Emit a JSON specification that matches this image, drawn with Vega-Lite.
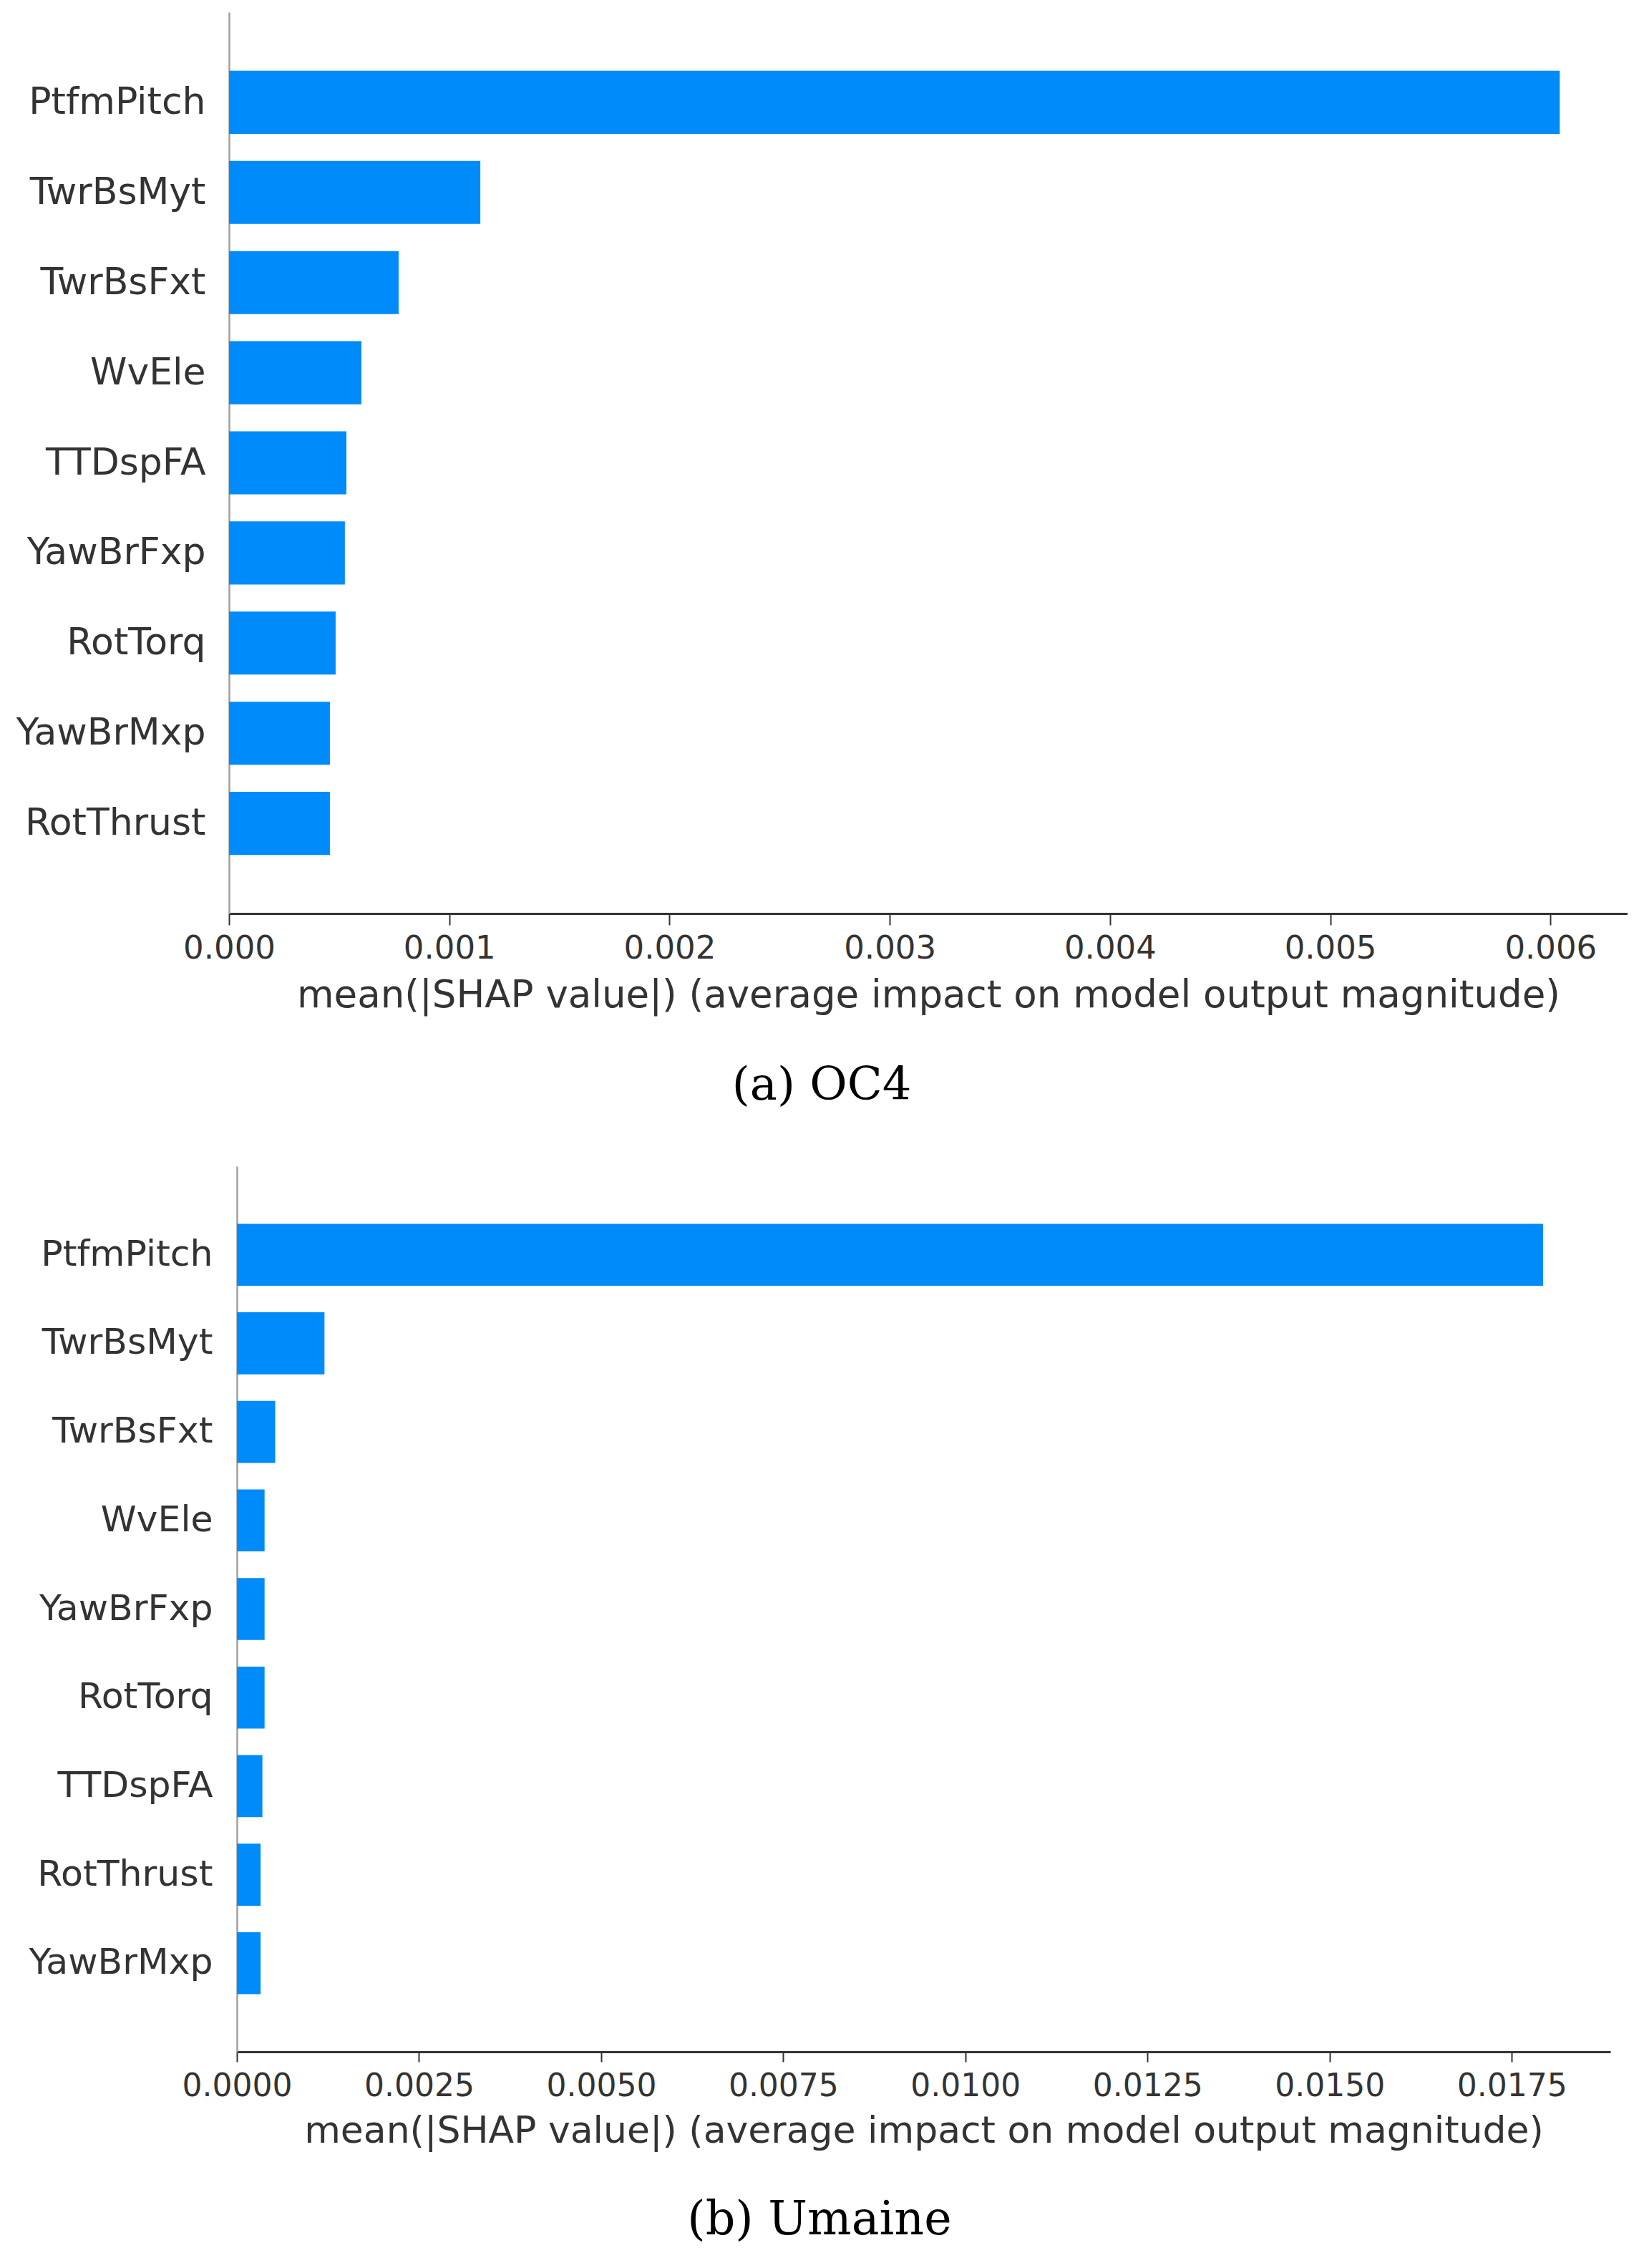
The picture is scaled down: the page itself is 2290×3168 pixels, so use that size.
{
  "$schema": "https://vega.github.io/schema/vega-lite/v6.json",
  "padding": {"left": 21, "top": 17, "right": 0, "bottom": 0},
  "background": "white",
  "datasets": {
    "oc4": [
      {"feature": "PtfmPitch", "value": 0.006042},
      {"feature": "TwrBsMyt", "value": 0.001141},
      {"feature": "TwrBsFxt", "value": 0.000770},
      {"feature": "WvEle", "value": 0.000601},
      {"feature": "TTDspFA", "value": 0.000533},
      {"feature": "YawBrFxp", "value": 0.000526},
      {"feature": "RotTorq", "value": 0.000484},
      {"feature": "YawBrMxp", "value": 0.000458},
      {"feature": "RotThrust", "value": 0.000458}
    ],
    "umaine": [
      {"feature": "PtfmPitch", "value": 0.01793},
      {"feature": "TwrBsMyt", "value": 0.001202},
      {"feature": "TwrBsFxt", "value": 0.000526},
      {"feature": "WvEle", "value": 0.000380},
      {"feature": "YawBrFxp", "value": 0.000380},
      {"feature": "RotTorq", "value": 0.000380},
      {"feature": "TTDspFA", "value": 0.000350},
      {"feature": "RotThrust", "value": 0.000325},
      {"feature": "YawBrMxp", "value": 0.000325}
    ],
    "empty": []
  },
  "spacing": 80,
  "vconcat": [
    {
      "spacing": 0,
      "hconcat": [
        {"width": 1, "height": 1, "data": {"name": "empty"}, "mark": {"type": "point", "opacity": 0}},
        {
          "width": 1954,
          "height": 1259,
          "data": {"name": "oc4"},
          "title": {"text": "(a) OC4", "orient": "bottom", "anchor": "middle", "frame": "bounds", "font": "DejaVu Serif", "fontSize": 64, "fontWeight": "normal", "color": "black", "offset": 68},
          "mark": {"type": "bar", "color": "#008bfb"},
          "encoding": {
            "y": {
              "field": "feature", "type": "nominal", "sort": null,
              "scale": {"paddingInner": 0.3, "paddingOuter": 0.65},
              "axis": {"title": null, "ticks": false, "labelFontSize": 52, "labelPadding": 33, "labelColor": "#333333", "labelFont": "DejaVu Sans", "domainColor": "#a0a0a0", "domainWidth": 2.5, "labelLimit": 1000}
            },
            "x": {
              "field": "value", "type": "quantitative",
              "scale": {"domain": [0, 0.00635], "nice": false, "zero": true},
              "axis": {"title": "mean(|SHAP value|) (average impact on model output magnitude)", "values": [0, 0.001, 0.002, 0.003, 0.004, 0.005, 0.006], "format": ".3f", "grid": false, "tickSize": 16, "tickWidth": 2, "tickColor": "#333333", "domainColor": "#333333", "domainWidth": 3, "labelFontSize": 45, "labelPadding": 10, "labelColor": "#333333", "labelFont": "DejaVu Sans", "titleFont": "DejaVu Sans", "titleFontSize": 53, "titleFontWeight": "normal", "titleColor": "#333333", "titlePadding": 17, "labelFlush": false}
            }
          }
        }
      ]
    },
    {
      "spacing": 0,
      "hconcat": [
        {"width": 18, "height": 1, "data": {"name": "empty"}, "mark": {"type": "point", "opacity": 0}},
        {
          "width": 1919,
          "height": 1237,
          "data": {"name": "umaine"},
          "title": {"text": "(b) Umaine", "orient": "bottom", "anchor": "middle", "frame": "bounds", "font": "DejaVu Serif", "fontSize": 65, "fontWeight": "normal", "color": "black", "offset": 68},
          "mark": {"type": "bar", "color": "#008bfb"},
          "encoding": {
            "y": {
              "field": "feature", "type": "nominal", "sort": null,
              "scale": {"paddingInner": 0.3, "paddingOuter": 0.65},
              "axis": {"title": null, "ticks": false, "labelFontSize": 50.5, "labelPadding": 34, "labelColor": "#333333", "labelFont": "DejaVu Sans", "domainColor": "#a0a0a0", "domainWidth": 2.5, "labelLimit": 1000}
            },
            "x": {
              "field": "value", "type": "quantitative",
              "scale": {"domain": [0, 0.018854], "nice": false, "zero": true},
              "axis": {"title": "mean(|SHAP value|) (average impact on model output magnitude)", "values": [0, 0.0025, 0.005, 0.0075, 0.01, 0.0125, 0.015, 0.0175], "format": ".4f", "grid": false, "tickSize": 14, "tickWidth": 2, "tickColor": "#333333", "domainColor": "#333333", "domainWidth": 3, "labelFontSize": 44, "labelPadding": 12, "labelColor": "#333333", "labelFont": "DejaVu Sans", "titleFont": "DejaVu Sans", "titleFontSize": 52, "titleFontWeight": "normal", "titleColor": "#333333", "titlePadding": 15, "labelFlush": false}
            }
          }
        }
      ]
    }
  ],
  "config": {
    "view": {"stroke": null}
  }
}
